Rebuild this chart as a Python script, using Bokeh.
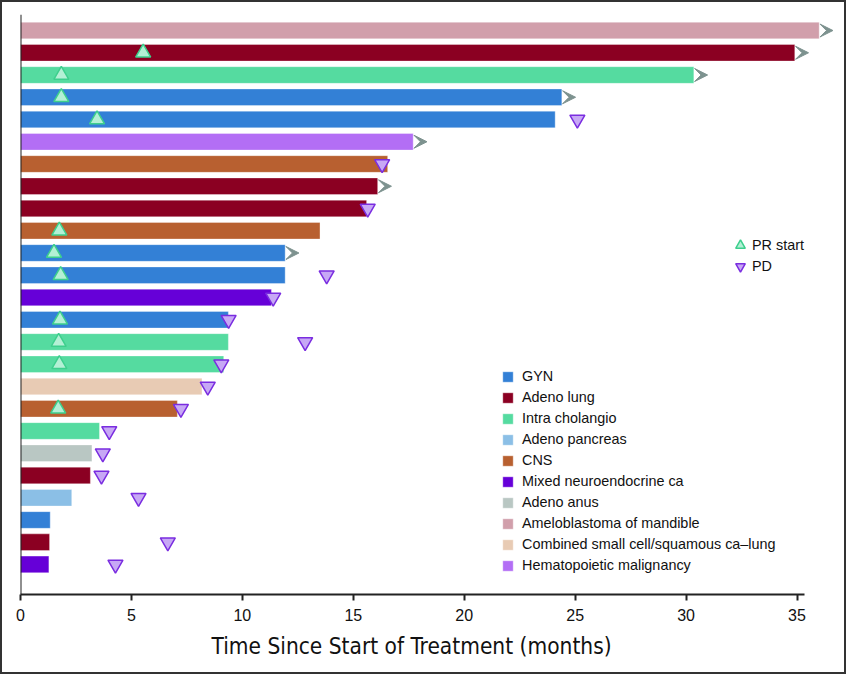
import math
from bokeh.plotting import figure
from bokeh.models import (ColumnDataSource, Legend, LegendItem, Arrow, VeeHead,
                          Span, FixedTicker, Title)
from bokeh.embed import file_html
from bokeh.resources import INLINE

# ---- data (rows listed top to bottom) ----
categories = ["GYN", "Adeno lung", "Intra cholangio", "Adeno pancreas", "CNS",
              "Mixed neuroendocrine ca", "Adeno anus", "Ameloblastoma of mandible",
              "Combined small cell/squamous ca\u2013lung", "Hematopoietic malignancy"]
cat_colors = ["#3380d6", "#8b0022", "#55dba0", "#8bbfe6", "#b86030",
              "#6600d8", "#b9c7c3", "#d19fab", "#e8cbb4", "#b36ef5"]

patient_cat = ["Ameloblastoma of mandible", "Adeno lung", "Intra cholangio", "GYN", "GYN",
               "Hematopoietic malignancy", "CNS", "Adeno lung", "Adeno lung", "CNS",
               "GYN", "GYN", "Mixed neuroendocrine ca", "GYN", "Intra cholangio",
               "Intra cholangio", "Combined small cell/squamous ca\u2013lung", "CNS",
               "Intra cholangio", "Adeno anus", "Adeno lung", "Adeno pancreas", "GYN",
               "Adeno lung", "Mixed neuroendocrine ca"]
duration = [36.0, 34.9, 30.35, 24.4, 24.1, 17.7, 16.55, 16.1, 15.6, 13.5,
            11.93, 11.93, 11.31, 9.37, 9.37, 9.16, 8.18, 7.07, 3.56, 3.22,
            3.15, 2.31, 1.34, 1.31, 1.28]
ongoing = [1, 1, 1, 1, 0, 1, 0, 1, 0, 0, 1, 0, 0, 0, 0, 0, 0, 0, 0, 0, 0, 0, 0, 0, 0]
nan = float("nan")
pr_start = [nan, 5.53, 1.84, 1.84, 3.45, nan, nan, nan, nan, 1.75,
            1.51, 1.81, nan, 1.78, 1.72, 1.75, nan, 1.70, nan, nan,
            nan, nan, nan, nan, nan]
pd_time = [nan, nan, nan, nan, 25.1, nan, 16.3, nan, 15.65, nan,
           nan, 13.8, 11.39, 9.38, 12.83, 9.05, 8.44, 7.23, 4.0, 3.71,
           3.65, 5.32, nan, 6.64, 4.28]
x_ticks = [0, 5, 10, 15, 20, 25, 30, 35]

n = len(duration)
rows = [n - i for i in range(n)]

FONT = "Liberation Sans"

p = figure(width=846, height=674, output_backend="svg", toolbar_location=None,
           x_range=(0, 36.78), y_range=(-0.35, n + 0.72),
           min_border_left=18, min_border_right=12, min_border_top=12, min_border_bottom=82)
p.styles = {"border": "2px solid #333333"}
p.outline_line_color = None
p.grid.visible = False
p.yaxis.visible = False

# bars, one renderer per category (for the legend)
bar_items = []
for c, col in zip(categories, cat_colors):
    idx = [i for i in range(n) if patient_cat[i] == c]
    src = ColumnDataSource(dict(y=[rows[i] for i in idx], right=[duration[i] for i in idx]))
    r = p.hbar(y="y", left=0, right="right", height=0.75, source=src,
               fill_color=col, line_color="white", line_alpha=0.35, line_width=1)
    bar_items.append(LegendItem(label=c, renderers=[r]))

# ongoing arrows
arr_idx = [i for i in range(n) if ongoing[i]]
arr_src = ColumnDataSource(dict(x0=[duration[i] for i in arr_idx],
                                x1=[duration[i] + 0.62 for i in arr_idx],
                                y=[rows[i] for i in arr_idx]))
p.add_layout(Arrow(source=arr_src, x_start="x0", x_end="x1", y_start="y", y_end="y",
                   line_color="#7d928f", line_width=2, line_alpha=0.0,
                   end=VeeHead(size=13, fill_color="#7d928f", line_color="#7d928f",
                               line_width=1)))

# markers
pr_idx = [i for i in range(n) if not math.isnan(pr_start[i])]
pr_src = ColumnDataSource(dict(x=[pr_start[i] for i in pr_idx], y=[rows[i] for i in pr_idx]))
r_pr = p.scatter("x", "y", source=pr_src, marker="triangle", size=15,
                 fill_color="#b3f0d5", line_color="#3dcf8d", line_width=1.5)
pd_idx = [i for i in range(n) if not math.isnan(pd_time[i])]
pd_src = ColumnDataSource(dict(x=[pd_time[i] for i in pd_idx], y=[rows[i] for i in pd_idx]))
r_pd = p.scatter("x", "y", source=pd_src, marker="inverted_triangle", size=15,
                 fill_color="#c7a8f5", line_color="#7a2de0", line_width=1.5)

# y axis line
p.add_layout(Span(location=0, dimension="height", line_color="#222222", line_width=2))

# x axis
xa = p.xaxis[0]
xa.ticker = FixedTicker(ticks=x_ticks)
xa.bounds = (0, 35.32)
xa.axis_line_width = 2
xa.axis_line_color = "#222222"
xa.major_tick_line_width = 2
xa.major_tick_line_color = "#222222"
xa.major_tick_in = 0
xa.major_tick_out = 6
xa.minor_tick_line_color = None
xa.major_label_text_font = FONT
xa.major_label_text_font_size = "16px"
xa.major_label_text_color = "#111111"
xa.major_label_standoff = 8

p.add_layout(Title(text="Time Since Start of Treatment (months)", align="left",
                   offset=191, standoff=15,
                   text_font="DejaVu Sans Condensed, Roboto", text_font_size="22.5px",
                   text_font_style="normal", text_color="#111111"), "below")

leg1 = Legend(items=bar_items, location=(481, 21), orientation="vertical",
              glyph_width=13, glyph_height=13, label_height=13, spacing=5,
              label_standoff=8, padding=0, margin=0,
              label_text_font=FONT, label_text_font_size="14.4px", label_text_color="#111111",
              border_line_color=None, background_fill_alpha=0)
leg_pr = Legend(items=[LegendItem(label="PR start", renderers=[r_pr])],
                location=(708, 337), orientation="vertical",
                glyph_width=24, glyph_height=24, label_height=13, spacing=0,
                label_standoff=-5, padding=0, margin=0,
                label_text_font=FONT, label_text_font_size="14.4px", label_text_color="#111111",
                border_line_color=None, background_fill_alpha=0)
leg_pd = Legend(items=[LegendItem(label="PD", renderers=[r_pd])],
                location=(708, 316), orientation="vertical",
                glyph_width=24, glyph_height=24, label_height=13, spacing=0,
                label_standoff=-5, padding=0, margin=0,
                label_text_font=FONT, label_text_font_size="14.4px", label_text_color="#111111",
                border_line_color=None, background_fill_alpha=0)
p.add_layout(leg1)
p.add_layout(leg_pr)
p.add_layout(leg_pd)

open("out.html", "w").write(file_html(p, INLINE))
